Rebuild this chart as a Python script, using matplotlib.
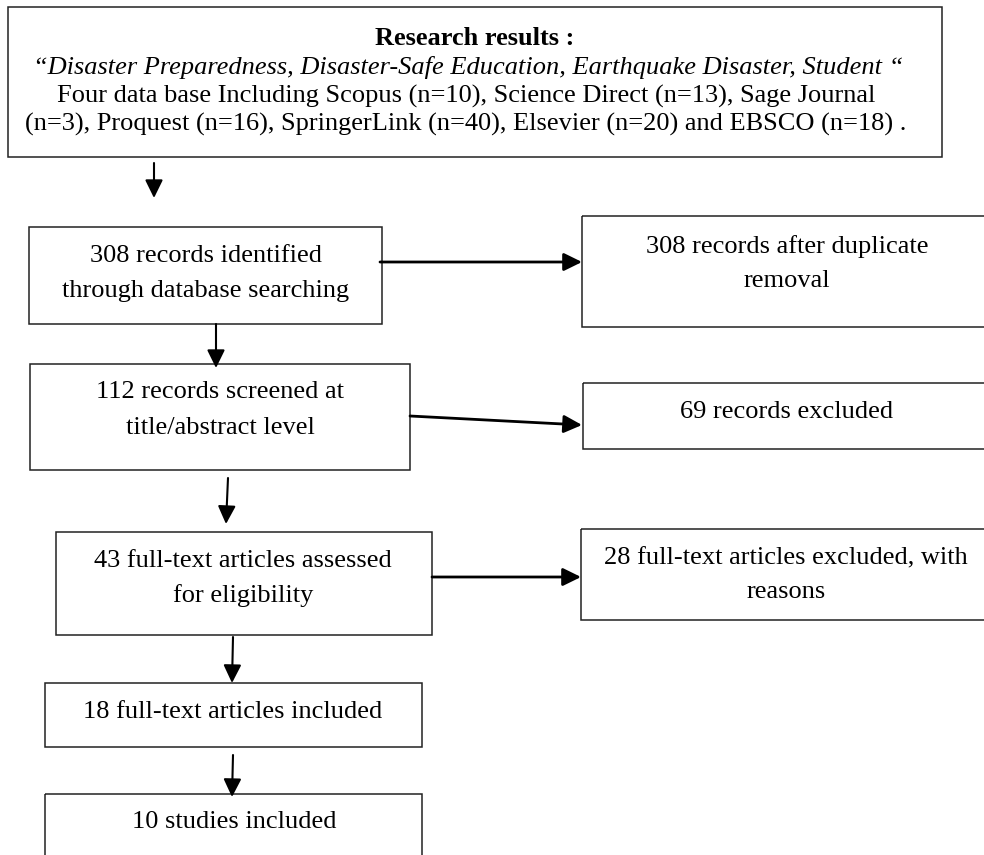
import matplotlib.pyplot as plt
from matplotlib.patches import Rectangle

plt.rcParams['font.family'] = ['Liberation Serif', 'DejaVu Serif']

# box texts
header_title = "Research results :"
header_query = "\u201cDisaster Preparedness, Disaster-Safe Education, Earthquake Disaster, Student \u201c"
header_db = ["Four data base Including Scopus (n=10), Science Direct (n=13), Sage Journal",
             "(n=3), Proquest (n=16), SpringerLink (n=40), Elsevier (n=20) and EBSCO (n=18) ."]

main_steps = [
    ["308 records identified", "through database searching"],
    ["112 records screened at", "title/abstract level"],
    ["43 full-text articles assessed", "for eligibility"],
    ["18 full-text articles included"],
    ["10 studies included"],
]
side_steps = [
    ["308 records after duplicate", "removal"],
    ["69 records excluded"],
    ["28 full-text articles excluded, with", "reasons"],
]

# layout in pixels: x0, y0, x1, y1, text centre x, first baseline, line step
main_boxes = [(29, 227, 382, 324, 206, 262, 35),
              (30, 364, 410, 470, 220, 398, 36),
              (56, 532, 432, 635, 243, 567, 35),
              (45, 683, 422, 747, 233, 718, 35),
              (45, 794, 422, 880, 234, 828, 35)]
side_boxes = [(582, 216, 995, 327, 787, 253, 34),
              (583, 383, 995, 449, 787, 418, 34),
              (581, 529, 995, 620, 786, 564, 34)]

fig = plt.figure(figsize=(9.84, 8.55), dpi=100)
ax = fig.add_axes([0, 0, 1, 1])
ax.set_xlim(0, 984)
ax.set_ylim(855, 0)
ax.axis('off')

fs = 19

def box(x0, y0, x1, y1):
    ax.add_patch(Rectangle((x0, y0), x1 - x0, y1 - y0, fill=False,
                           edgecolor='#222222', linewidth=1.1))

def arrow(p0, p1, lw=1.5):
    ax.annotate('', xy=p1, xytext=p0,
                arrowprops=dict(arrowstyle='-|>,head_length=0.55,head_width=0.27',
                                mutation_scale=20, color='black', lw=lw,
                                shrinkA=0, shrinkB=0))

def lines(cx, y, step, texts, **kw):
    for i, t in enumerate(texts):
        ax.text(cx, y + i * step, t, ha='center', va='baseline', fontsize=fs, **kw)

# header
box(8, 7, 942, 157)
lines(475, 45, 0, [header_title], fontweight='bold')
lines(468, 74, 0, [header_query], style='italic')
lines(466, 103, 28, header_db)

for (x0, y0, x1, y1, cx, ty, st), t in zip(main_boxes, main_steps):
    box(x0, y0, x1, y1)
    lines(cx, ty, st, t)

for (x0, y0, x1, y1, cx, ty, st), t in zip(side_boxes, side_steps):
    box(x0, y0, x1, y1)
    lines(cx, ty, st, t)

# vertical arrows
arrow((154, 163), (154, 198))
arrow((216, 324), (216, 368))
arrow((228, 478), (226, 524))
arrow((233, 637), (232, 683))
arrow((233, 755), (232, 797))

# side arrows
arrow((380, 262), (582, 262), lw=2)
arrow((410, 416), (582, 425), lw=2)
arrow((432, 577), (581, 577), lw=2)

fig.savefig('out.png', dpi=100)
